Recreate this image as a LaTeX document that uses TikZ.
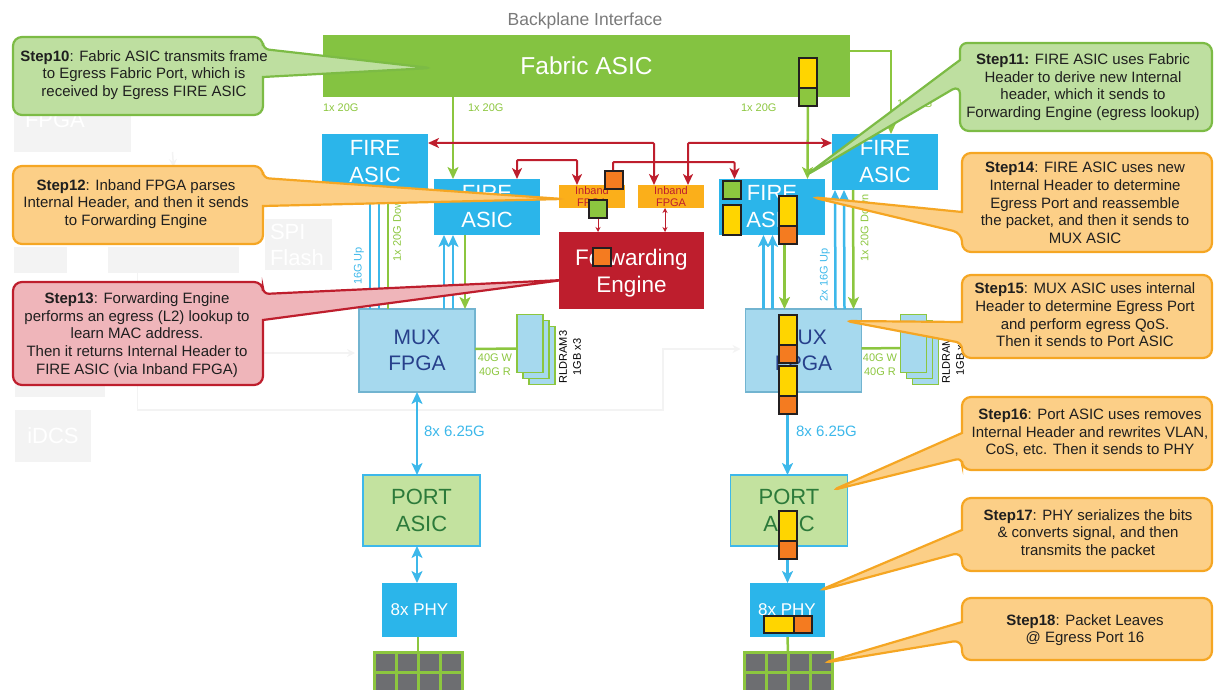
\documentclass[tikz,border=0pt]{standalone}
\usepackage{fontspec}
\setmainfont{Liberation Sans}
\usetikzlibrary{positioning,arrows.meta,calc}
\definecolor{fabgreen}{HTML}{84C341}
\definecolor{lnkgreen}{HTML}{8CC63F}
\definecolor{fireblue}{HTML}{2BB5EA}
\definecolor{lnkblue}{HTML}{3DB8EA}
\definecolor{fered}{HTML}{BE1E2D}
\definecolor{inbandor}{HTML}{FBAF1A}
\definecolor{muxfill}{HTML}{A6D9EE}
\definecolor{muxline}{HTML}{72B4D0}
\definecolor{muxtext}{HTML}{27408B}
\definecolor{portfill}{HTML}{C3E29F}
\definecolor{porttext}{HTML}{2C7A3A}
\definecolor{cellgray}{HTML}{6D6E71}
\definecolor{ghostgray}{HTML}{F3F3F3}
\definecolor{callgfill}{HTML}{BEDFA0}
\definecolor{callgline}{HTML}{7CBB45}
\definecolor{callofill}{HTML}{FCCF87}
\definecolor{calloline}{HTML}{F5A623}
\definecolor{callrfill}{HTML}{EFB5BA}
\definecolor{pktyellow}{HTML}{FFD500}
\definecolor{pktorange}{HTML}{F47B20}
\definecolor{pktline}{HTML}{231F20}
\begin{document}
\begin{tikzpicture}[
x=1pt, y=-1pt,
unit/.style={inner sep=0pt, outer sep=0pt, align=center},
fabric/.style={unit, fill=fabgreen, text=white, minimum width=527pt, minimum height=62pt, font=\fontsize{24.5}{28}\selectfont},
fire/.style={unit, fill=fireblue, text=white, minimum width=106pt, minimum height=56pt, font=\fontsize{22}{27}\selectfont},
inband/.style={unit, fill=inbandor, text=fered, minimum width=66pt, minimum height=23pt, font=\fontsize{11}{12}\selectfont},
engine/.style={unit, fill=fered, text=white, minimum width=145pt, minimum height=77pt, font=\fontsize{22.5}{27}\selectfont},
mux/.style={unit, draw=muxline, line width=1.5pt, fill=muxfill, text=muxtext, minimum width=116pt, minimum height=83pt, font=\fontsize{21}{26}\selectfont},
port/.style={unit, draw=lnkblue, line width=1.5pt, fill=portfill, text=porttext, minimum width=117pt, minimum height=71pt, font=\fontsize{22}{27}\selectfont},
phy/.style={unit, fill=fireblue, text=white, minimum width=75pt, minimum height=54pt, font=\fontsize{17}{20}\selectfont},
ram/.style={unit, draw=lnkgreen, line width=1.5pt, fill=muxfill, minimum width=26pt, minimum height=58pt},
cell/.style={unit, draw=lnkgreen, line width=3pt, fill=cellgray, minimum width=22pt, minimum height=20pt, anchor=north west},
ghost/.style={unit, fill=ghostgray, text=white, font=\fontsize{22}{26}\selectfont},
ghostarr/.style={draw=ghostgray, line width=1.5pt, -{Stealth[length=8pt,width=8pt]}},
gline/.style={draw=lnkgreen, line width=2.5pt},
garr/.style={gline, -{Stealth[length=12pt,width=11pt,inset=3pt]}},
barr/.style={draw=lnkblue, line width=2.5pt, -{Stealth[length=12pt,width=11pt,inset=3pt]}},
bboth/.style={draw=lnkblue, line width=2.5pt, {Stealth[length=12pt,width=11pt,inset=3pt]}-{Stealth[length=12pt,width=11pt,inset=3pt]}},
rarr/.style={draw=fered, line width=2pt, rounded corners=1pt, {Stealth[length=11pt,width=10pt,inset=3pt]}-{Stealth[length=11pt,width=10pt,inset=3pt]}},
rthin/.style={draw=fered, line width=1pt},
lblg/.style={unit, text=lnkgreen, font=\fontsize{11}{14}\selectfont},
lblb/.style={unit, text=lnkblue, font=\fontsize{11}{14}\selectfont},
lblk/.style={unit, text=black, font=\fontsize{11}{14}\selectfont},
lblwide/.style={unit, text=lnkblue, font=\fontsize{15}{18}\selectfont},
callg/.style={draw=callgline, fill=callgfill, line width=2.2pt, rounded corners=9pt},
callo/.style={draw=calloline, fill=callofill, line width=2.2pt, rounded corners=9pt},
callr/.style={draw=fered, fill=callrfill, line width=2.2pt, rounded corners=9pt},
calltext/.style={unit, text=black!88, font=\fontsize{15}{17.6}\selectfont},
pkty/.style={unit, draw=pktline, line width=2pt, fill=pktyellow, minimum width=18pt, minimum height=30pt},
pkto/.style={unit, draw=pktline, line width=2pt, fill=pktorange, minimum width=18pt, minimum height=17.5pt},
pktg/.style={unit, draw=pktline, line width=2pt, fill=lnkgreen, minimum width=18pt, minimum height=18pt}
]
\useasboundingbox (0,0) rectangle (1215,690);
\clip (0,0) rectangle (1215,690);

% faded blocks behind the callouts
\node[ghost, minimum width=117pt, minimum height=64pt, text width=95pt, inner xsep=11pt, align=left] (ghostfpga) at (72.5,120) {FPGA};
\node[ghost, minimum width=67pt, minimum height=51pt, text width=57pt, inner xsep=5pt, align=left] (ghostflash) at (298.5,244.5) {SPI\\Flash};
\node[ghost, minimum width=53pt, minimum height=26pt] (ghostleft) at (40.5,260) {};
\node[ghost, minimum width=131pt, minimum height=26pt] (ghostmid) at (173.5,260) {};
\node[ghost, minimum width=90pt, minimum height=52pt] (ghostlow) at (60,371) {};
\node[ghost, minimum width=76pt, minimum height=52pt] (ghostidcs) at (53,436) {iDCS};
\coordinate (ghostin) at (264,353);

\node[font=\fontsize{17.5}{20}\selectfont, text=black!52] (title) at (585,20.5) {Backplane Interface};
\node[fabric] (fabric) at (586.5,66) {Fabric ASIC};

\node[fire, below right=37pt and -1pt of fabric.south west] (fireA) {FIRE\\ASIC};
\node[fire, right=6pt of fireA, yshift=-45pt] (fireB) {FIRE\\ASIC};
\node[inband, right=19pt of fireB, yshift=10.5pt] (inbandA) {Inband\\FPGA};
\node[inband, right=13pt of inbandA] (inbandB) {Inband\\FPGA};
\node[engine, below right=24pt and 0pt of inbandA.south west] (engine) {\rule{0pt}{22pt}Forwarding\\Engine};
\node[fire, right=15pt of inbandB, yshift=-10.5pt] (fireC) {FIRE\\ASIC};
\node[fire, right=7pt of fireC, yshift=45pt] (fireD) {FIRE\\ASIC};

\node[mux, below=74pt of fireB, xshift=-70pt] (muxL) {MUX\\FPGA};
\node[mux, below=74pt of fireC, xshift=31.5pt] (muxR) {MUX\\FPGA};
\node[port, below=83pt of muxL, xshift=4.5pt] (portL) {PORT\\ASIC};
\node[port, below=83pt of muxR, xshift=-14.5pt] (portR) {PORT\\ASIC};
\node[phy, below=37pt of portL, xshift=-2pt] (phyL) {8x PHY};
\node[phy, below=37pt of portR, xshift=-2pt] (phyR) {8x PHY};

% memory stacks
\node[ram, right=54pt of muxL, yshift=-5pt] (ramLc) {};
\node[ram, above left=-52pt and -20pt of ramLc] (ramLb) {};
\node[ram, above left=-52pt and -20pt of ramLb] (ramLa) {};
\node[ram, right=51pt of muxR, yshift=-5pt] (ramRc) {};
\node[ram, above left=-52pt and -20pt of ramRc] (ramRb) {};
\node[ram, above left=-52pt and -20pt of ramRb] (ramRa) {};

% port grids
\foreach \c in {0,...,3}
  \foreach \r in {0,1} {
    \node[cell] (cellL\c\r) at ({374+22*\c},{652.5+20*\r}) {};
    \node[cell] (cellR\c\r) at ({744+22*\c},{652.5+20*\r}) {};
  }

\draw[ghostarr] ([xshift=100pt]ghostfpga.south) -- ([yshift=80pt]ghostmid.north);
\draw[ghostarr] (ghostin) -- ([xshift=-4pt,yshift=-2.5pt]muxL.west);
\draw[ghostarr] ([xshift=-36pt]ghostmid.south) |- (663,410) |- ([xshift=-5pt,yshift=1.5pt]muxR.west);

% links
\draw[garr] ([xshift=-133.5pt]fabric.south) -- ([xshift=-34pt]fireB.north);
\draw[garr] ([xshift=221.5pt]fabric.south) -- ([xshift=35.5pt]fireC.north);
\draw[garr] ([yshift=15pt]fabric.east) -| ([xshift=6pt]fireD.north);

\draw[rarr] ([yshift=19pt]fireA.east) -| ([xshift=-17pt]inbandB.north);
\draw[rarr] ([yshift=19pt]fireD.west) -| ([xshift=17pt]inbandB.north);
\draw[rarr] ([xshift=30pt]fireB.north) -- ++(0,-19) -| ([xshift=-15pt]inbandA.north);
\draw[rarr] ([xshift=21pt]inbandA.north) -- ++(0,-23) -| ([xshift=-37.5pt]fireC.north);
\draw[rthin, -{Stealth[length=5pt,width=5pt]}] ([xshift=6pt]inbandA.south) -- ([xshift=-33.5pt]engine.north);
\draw[rthin, {Stealth[length=5pt,width=5pt]}-{Stealth[length=5pt,width=5pt]}] ([xshift=-6pt]inbandB.south) -- ([xshift=33.5pt]engine.north);

\draw[barr] ([xshift=-47pt]muxL.north) -- ([xshift=-5pt]fireA.south);
\draw[barr] ([xshift=-38pt]muxL.north) -- ([xshift=4pt]fireA.south);
\draw[gline] ([xshift=13pt]fireA.south) -- ([xshift=-29pt]muxL.north);
\draw[barr] ([xshift=27pt]muxL.north) -- ([xshift=-43pt]fireB.south);
\draw[barr] ([xshift=36pt]muxL.north) -- ([xshift=-34pt]fireB.south);
\draw[garr] ([xshift=-22pt]fireB.south) -- ([xshift=48pt]muxL.north);

\draw[barr] ([xshift=-40pt]muxR.north) -- ([xshift=-8.5pt]fireC.south);
\draw[barr] ([xshift=-31pt]muxR.north) -- ([xshift=.5pt]fireC.south);
\draw[garr] ([xshift=12.5pt]fireC.south) -- ([xshift=-19pt]muxR.north);
\draw[barr] ([xshift=32pt]muxR.north) -- ([xshift=-50pt]fireD.south);
\draw[barr] ([xshift=41pt]muxR.north) -- ([xshift=-41pt]fireD.south);
\draw[garr] ([xshift=-32pt]fireD.south) -- ([xshift=50pt]muxR.north);

\draw[bboth] (muxL.south) -- ([xshift=-4.5pt]portL.north);
\draw[barr] ([xshift=-16pt]muxR.south) -- ([xshift=-1.5pt]portR.north);
\draw[bboth] ([xshift=-4.5pt]portL.south) -- ([xshift=-2.5pt]phyL.north);
\draw[barr] ([xshift=-1.5pt]portR.south) -- ([xshift=.5pt]phyR.north);
\draw[gline] ([xshift=-1.5pt]phyL.south) -- (cellL10.north east);
\draw[gline] ([xshift=.5pt]phyR.south) -- (cellR10.north east);
\draw[gline] ([yshift=1.5pt]muxL.east) -- ([yshift=-5pt]ramLa.west);
\draw[gline] ([yshift=2pt]muxR.east) -- ([yshift=-4.5pt]ramRa.west);

% link labels
\node[lblg, anchor=west] (rateA) at (323,108) {1x 20G};
\node[lblg, anchor=west] (rateB) at (468,108) {1x 20G};
\node[lblg, anchor=west] (rateC) at (741,108) {1x 20G};
\node[lblg, anchor=west] (rateD) at (897,104) {1x 20G};
\node[lblb, rotate=90] (upA) at (359,266) {16G Up};
\node[lblg, rotate=90] (downA) at (397,228) {1x 20G Down};
\node[lblb, rotate=90] (upB) at (825,275) {2x 16G Up};
\node[lblg, rotate=90] (downB) at (864.5,228) {1x 20G Down};
\node[lblwide, anchor=west] (laneL) at (424,431) {8x 6.25G};
\node[lblwide, anchor=west] (laneR) at (796,431) {8x 6.25G};
\node[lblg] (ddrL) at (495,365) {40G W\\40G R};
\node[lblg] (ddrR) at (880,365) {40G W\\40G R};
\node[lblk, rotate=90] (chipL) at (570,357) {RLDRAM3\\1GB x3};
\node[lblk, rotate=90] (chipR) at (953,357) {RLDRAM3\\1GB x3};

% step callouts
\draw[callg] (13,37) -- (263,37) [rounded corners=6pt] -- (263,49) -- (431,68) [sharp corners] -- (263,77) [rounded corners=9pt] -- (263,115) -- (13,115) -- cycle;
\node[calltext] (stepten) at (144,75) {\textbf{Step10}: Fabric ASIC transmits frame\\to Egress Fabric Port, which is\\received by Egress FIRE ASIC};
\draw[callo] (13,166) -- (263,166) [rounded corners=6pt] -- (263,178) -- (563,199) [sharp corners] -- (263,206) [rounded corners=9pt] -- (263,244) -- (13,244) -- cycle;
\node[calltext] (steptwelve) at (136,204) {\textbf{Step12}: Inband FPGA parses\\Internal Header, and then it sends\\to Forwarding Engine};
\draw[callr] (13,282) -- (263,282) [rounded corners=6pt] -- (263,294) -- (563,280) [sharp corners] -- (263,320) [rounded corners=9pt] -- (263,385) -- (13,385) -- cycle;
\node[calltext] (stepthirteen) at (137,335) {\textbf{Step13}: Forwarding Engine\\performs an egress (L2) lookup to\\learn MAC address.\\Then it returns Internal Header to\\FIRE ASIC (via Inband FPGA)};
\draw[callg] (1212,43) -- (1212,131) -- (960,131) -- (960,85) -- (805,176) [sharp corners] -- (960,60) [rounded corners=7pt] -- (960,43) [rounded corners=9pt] -- cycle;
\node[calltext] (stepeleven) at (1083,87) {\textbf{Step11:} FIRE ASIC uses Fabric\\Header to derive new Internal\\header, which it sends to\\Forwarding Engine (egress lookup)};
\draw[callo] (1212,153) -- (1212,252) -- (962,252) -- (962,233) -- (811,197) [sharp corners] -- (962,212) [rounded corners=9pt] -- (962,153) -- cycle;
\node[calltext] (stepfourteen) at (1085,203) {\textbf{Step14}: FIRE ASIC uses new\\Internal Header to determine\\Egress Port and reassemble\\the packet, and then it sends to\\MUX ASIC};
\draw[callo] (1212,275) -- (1212,358) -- (962,358) [rounded corners=6pt] -- (962,343) -- (846,321) [sharp corners] -- (962,322) [rounded corners=9pt] -- (962,275) -- cycle;
\node[calltext] (stepfifteen) at (1085,315) {\textbf{Step15}: MUX ASIC uses internal\\Header to determine Egress Port\\and perform egress QoS.\\Then it sends to Port ASIC};
\draw[callo] (1212,397) -- (1212,470) -- (962,470) [rounded corners=6pt] -- (962,458) -- (833,490) [sharp corners] -- (962,433) [rounded corners=9pt] -- (962,397) -- cycle;
\node[calltext] (stepsixteen) at (1090,433) {\textbf{Step16}: Port ASIC uses removes\\Internal Header and rewrites VLAN,\\CoS, etc. Then it sends to PHY};
\draw[callo] (1212,498) -- (1212,571) -- (962,571) -- (962,552) -- (818,591) [sharp corners] -- (962,530) [rounded corners=9pt] -- (962,498) -- cycle;
\node[calltext] (stepseventeen) at (1088,534) {\textbf{Step17}: PHY serializes the bits\\\& converts signal, and then\\transmits the packet};
\draw[callo] (1212,598) -- (1212,660) -- (962,660) -- (962,640) -- (823,663) [sharp corners] -- (962,622) [rounded corners=9pt] -- (962,598) -- cycle;
\node[calltext] (stepeighteen) at (1085,630) {\textbf{Step18}: Packet Leaves\\@ Egress Port 16};

% packets on the way
\node[pkty, anchor=north west] (pktA) at (799,58) {};
\node[pktg, below=0pt of pktA] (pktAb) {};
\node[pkto, anchor=north west] (pktB) at (604.5,171) {};
\node[pktg, anchor=north west] (pktC) at (589,199.5) {};
\node[pkto, anchor=north west] (pktD) at (593,248) {};
\node[pktg, anchor=north west] (pktE) at (722.5,180.5) {};
\node[pkty, anchor=north west] (pktF) at (722.5,205) {};
\node[pkty, anchor=north west] (pktG) at (779,196) {};
\node[pkto, below=0pt of pktG] (pktGb) {};
\node[pkty, anchor=north west] (pktH) at (779,315) {};
\node[pkto, below=0pt of pktH] (pktHb) {};
\node[pkty, anchor=north west] (pktI) at (779,366) {};
\node[pkto, below=0pt of pktI] (pktIb) {};
\node[pkty, anchor=north west] (pktJ) at (779,511) {};
\node[pkto, below=0pt of pktJ] (pktJb) {};
\node[pkty, anchor=north west, minimum width=30pt, minimum height=17.5pt] (pktK) at (764,615.5) {};
\node[pkto, right=0pt of pktK] (pktKb) {};
\end{tikzpicture}
\end{document}
